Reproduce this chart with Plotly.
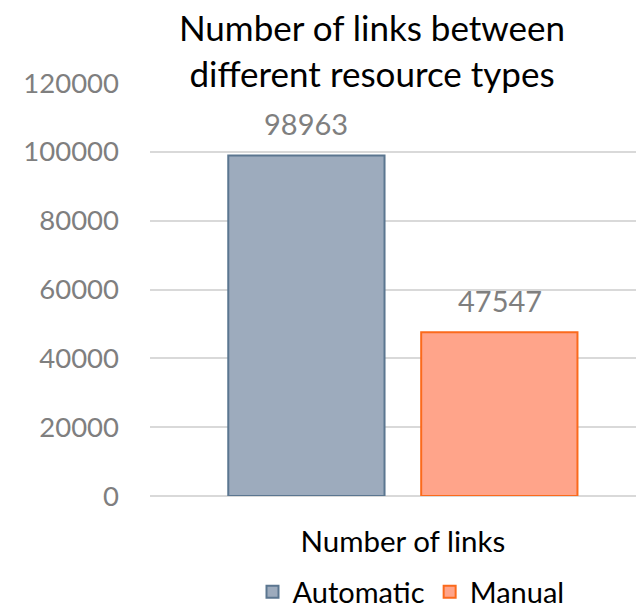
import plotly.graph_objects as go

categories = ["Number of links"]
series_names = ["Automatic", "Manual"]
automatic_values = [98963]
manual_values = [47547]
y_ticks = [0, 20000, 40000, 60000, 80000, 100000, 120000]

FONT = "Lato"
LABEL_SHIFT = {"Automatic": -97, "Manual": 97}

fig = go.Figure()
fig.add_trace(go.Bar(
    name=series_names[0], x=categories, y=automatic_values,
    marker=dict(color="#9dabbd", line=dict(color="#5b7690", width=2)),
))
fig.add_trace(go.Bar(
    name=series_names[1], x=categories, y=manual_values,
    marker=dict(color="#ffa48a", line=dict(color="#fb6a1c", width=2)),
))

for name, vals in zip(series_names, [automatic_values, manual_values]):
    for c, v in zip(categories, vals):
        fig.add_annotation(
            x=c, y=v, text=f"{v:d}", showarrow=False,
            xshift=LABEL_SHIFT[name], yshift=32, yanchor="middle",
            font=dict(family=FONT, size=29, color="#7f7f7f"),
        )

fig.update_layout(
    width=636, height=613,
    margin=dict(l=150, r=0, t=83, b=117, autoexpand=False),
    paper_bgcolor="white", plot_bgcolor="white",
    barmode="group", bargap=0.237, bargroupgap=0.19,
    font=dict(family=FONT, color="#000000"),
    title=dict(
        text="Number of links between<br>different resource types",
        x=372/636, xanchor="center", xref="container",
        y=1 - 41/613, yanchor="middle", yref="container",
        font=dict(family=FONT, size=35, color="#000000"),
    ),
    xaxis=dict(
        type="category", range=[-0.5, 0.461],
        showgrid=False, showline=False, ticks="",
        ticklabelstandoff=25,
        tickfont=dict(family=FONT, size=29.5, color="#000000"),
    ),
    yaxis=dict(
        range=[0, 120000], tickvals=y_ticks, tickformat="d",
        showgrid=True, gridcolor="#d9d9d9", gridwidth=1.5,
        zeroline=True, zerolinecolor="#d9d9d9", zerolinewidth=1.5,
        showline=False, ticks="",
        ticklabelstandoff=30,
        tickfont=dict(family=FONT, size=27.5, color="#7f7f7f"),
    ),
    legend=dict(
        orientation="h", x=(411-150)/486, xanchor="center",
        y=-0.232, yanchor="middle",
        font=dict(family=FONT, size=29, color="#000000"),
        traceorder="normal",
    ),
    showlegend=True,
)

fig.write_html("out.html")
